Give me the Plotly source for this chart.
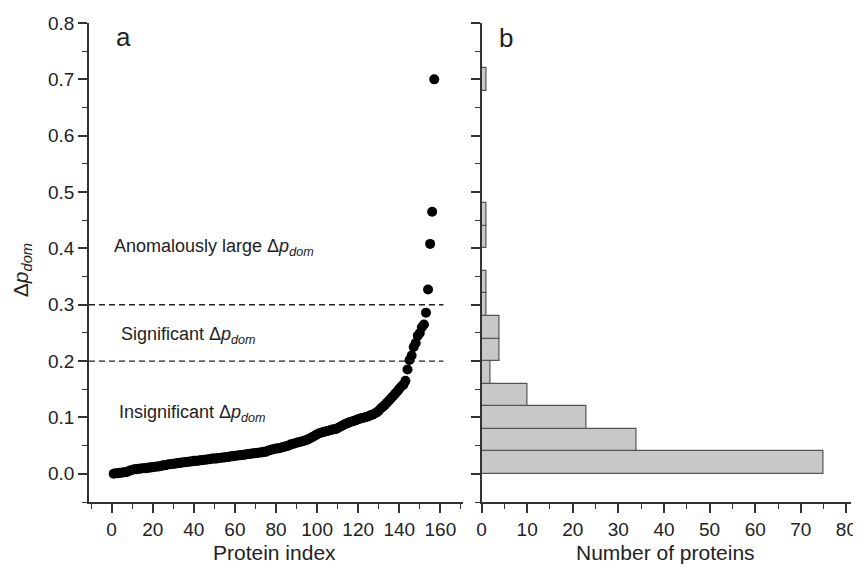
import plotly.graph_objects as go

# ---- data ----
protein_index = list(range(1, 158))
delta_p_dom = [
    0.000, 0.001, 0.001, 0.002, 0.002, 0.003, 0.003, 0.004, 0.006, 0.007,
    0.008, 0.008, 0.009, 0.009, 0.010, 0.010, 0.010, 0.011, 0.011, 0.012,
    0.012, 0.013, 0.013, 0.014, 0.015, 0.015, 0.016, 0.017, 0.017, 0.018,
    0.018, 0.019, 0.019, 0.020, 0.020, 0.021, 0.021, 0.022, 0.022, 0.023,
    0.023, 0.023, 0.024, 0.024, 0.025, 0.025, 0.026, 0.026, 0.027, 0.027,
    0.027, 0.028, 0.028, 0.029, 0.029, 0.030, 0.030, 0.031, 0.031, 0.032,
    0.032, 0.033, 0.033, 0.034, 0.034, 0.035, 0.035, 0.036, 0.036, 0.037,
    0.037, 0.038, 0.038, 0.039, 0.039, 0.041, 0.042, 0.043, 0.044, 0.045,
    0.045, 0.046, 0.047, 0.048, 0.049, 0.050, 0.052, 0.053, 0.054, 0.055,
    0.056, 0.057, 0.058, 0.059, 0.060, 0.062, 0.064, 0.066, 0.068, 0.070,
    0.072, 0.073, 0.074, 0.075, 0.076, 0.077, 0.078, 0.079, 0.079, 0.081,
    0.083, 0.085, 0.087, 0.089, 0.090, 0.092, 0.093, 0.094, 0.095, 0.097,
    0.098, 0.099, 0.100, 0.101, 0.102, 0.104, 0.105, 0.107, 0.109, 0.112,
    0.116, 0.119, 0.122, 0.126, 0.130, 0.134, 0.138, 0.142, 0.146, 0.151,
    0.155, 0.158, 0.165, 0.185, 0.202, 0.210, 0.225, 0.232, 0.245, 0.250,
    0.260, 0.265, 0.286, 0.327, 0.408, 0.465, 0.700,
]
bin_starts = [0.00, 0.04, 0.08, 0.12, 0.16, 0.20, 0.24, 0.28, 0.32, 0.36,
              0.40, 0.44, 0.48, 0.52, 0.56, 0.60, 0.64, 0.68]
bin_counts = [75, 34, 23, 10, 2, 4, 4, 1, 1, 0, 1, 1, 0, 0, 0, 0, 0, 1]
bin_width = 0.04
thresholds = [0.2, 0.3]
y_ticks = [0.0, 0.1, 0.2, 0.3, 0.4, 0.5, 0.6, 0.7, 0.8]
x1_ticks = [0, 20, 40, 60, 80, 100, 120, 140, 160]
x2_ticks = [0, 10, 20, 30, 40, 50, 60, 70, 80]

FONT = "Liberation Sans, Arial, sans-serif"
AX = "#333333"

fig = go.Figure()
fig.add_trace(go.Scatter(
    x=protein_index, y=delta_p_dom, mode="markers",
    marker=dict(color="black", size=10, line=dict(width=0)),
    xaxis="x", yaxis="y", showlegend=False, hoverinfo="skip"))

fig.add_trace(go.Bar(
    x=bin_counts, y=[b + bin_width / 2 for b in bin_starts], width=bin_width,
    orientation="h",
    marker=dict(color="#c8c8c8", line=dict(color="#555555", width=1.2)),
    xaxis="x2", yaxis="y2", showlegend=False, hoverinfo="skip"))

for t in thresholds:
    fig.add_shape(type="line", xref="x", yref="y", x0=-11, x1=161.5, y0=t, y1=t,
                  line=dict(color="#222222", width=1.3, dash="6px,4px"))

axis_common = dict(showline=True, linecolor=AX, linewidth=1.5, showgrid=False,
                   zeroline=False, ticks="outside", ticklen=9, tickwidth=1.5,
                   tickcolor=AX, mirror=False, automargin=False,
                   tickfont=dict(family=FONT, size=19, color="#222"))
minor_common = dict(ticks="outside", ticklen=5, tickwidth=1.3, tickcolor=AX, showgrid=False)

# the page adds an 8px body margin, so the figure is 8px smaller and margins shifted
fig.update_layout(
    width=853, height=559,
    margin=dict(l=81, r=10, t=15, b=65, autoexpand=False),
    plot_bgcolor="white", paper_bgcolor="white",
    bargap=0,
    xaxis=dict(domain=[0, 0.4908], range=[-11, 171], anchor="y",
               tickvals=x1_ticks, ticktext=[str(v) for v in x1_ticks],
               minor=dict(dtick=10, tick0=0, **minor_common), **axis_common),
    yaxis=dict(domain=[0, 1], range=[-0.05, 0.8], anchor="x",
               tickvals=y_ticks, ticktext=[f"{v:.1f}" for v in y_ticks],
               minor=dict(dtick=0.05, tick0=0, **minor_common), **axis_common),
    xaxis2=dict(domain=[0.5151, 1], range=[0, 81], anchor="y2",
                tickvals=x2_ticks, ticktext=[str(v) for v in x2_ticks],
                minor=dict(dtick=5, tick0=0, **minor_common), **axis_common),
    yaxis2=dict(domain=[0, 1], range=[-0.05, 0.8], anchor="x2",
                tickvals=y_ticks, showticklabels=False,
                minor=dict(dtick=0.05, tick0=0, **minor_common), **axis_common),
)

txt = dict(family=FONT, size=18, color="#222")
anns = [
    dict(x=0, y=0.402, xref="x", yref="y", text="Anomalously large Δ<i>p</i><sub><i>dom</i></sub>",
         xanchor="left", yanchor="middle", showarrow=False, font=txt),
    dict(x=3.6, y=0.246, xref="x", yref="y", text="Significant Δ<i>p</i><sub><i>dom</i></sub>",
         xanchor="left", yanchor="middle", showarrow=False, font=txt),
    dict(x=2.6, y=0.107, xref="x", yref="y", text="Insignificant Δ<i>p</i><sub><i>dom</i></sub>",
         xanchor="left", yanchor="middle", showarrow=False, font=txt),
    dict(x=1.0, y=0.776, xref="x", yref="y", text="a", xanchor="left", yanchor="middle",
         showarrow=False, font=dict(family=FONT, size=26, color="#222")),
    dict(x=3.4, y=0.774, xref="x2", yref="y2", text="b", xanchor="left", yanchor="middle",
         showarrow=False, font=dict(family=FONT, size=26, color="#222")),
    dict(x=0.244, y=-0.106, xref="paper", yref="paper", text="Protein index",
         xanchor="center", yanchor="middle", showarrow=False,
         font=dict(family=FONT, size=21, color="#222")),
    dict(x=0.756, y=-0.106, xref="paper", yref="paper", text="Number of proteins",
         xanchor="center", yanchor="middle", showarrow=False,
         font=dict(family=FONT, size=21, color="#222")),
    dict(x=-0.0879, y=0.484, xref="paper", yref="paper",
         text="Δ<i>p</i><sub><i>dom</i></sub>", textangle=-90,
         xanchor="center", yanchor="middle", showarrow=False,
         font=dict(family=FONT, size=21, color="#222")),
]
fig.update_layout(annotations=anns)

fig.write_html("out.html")
